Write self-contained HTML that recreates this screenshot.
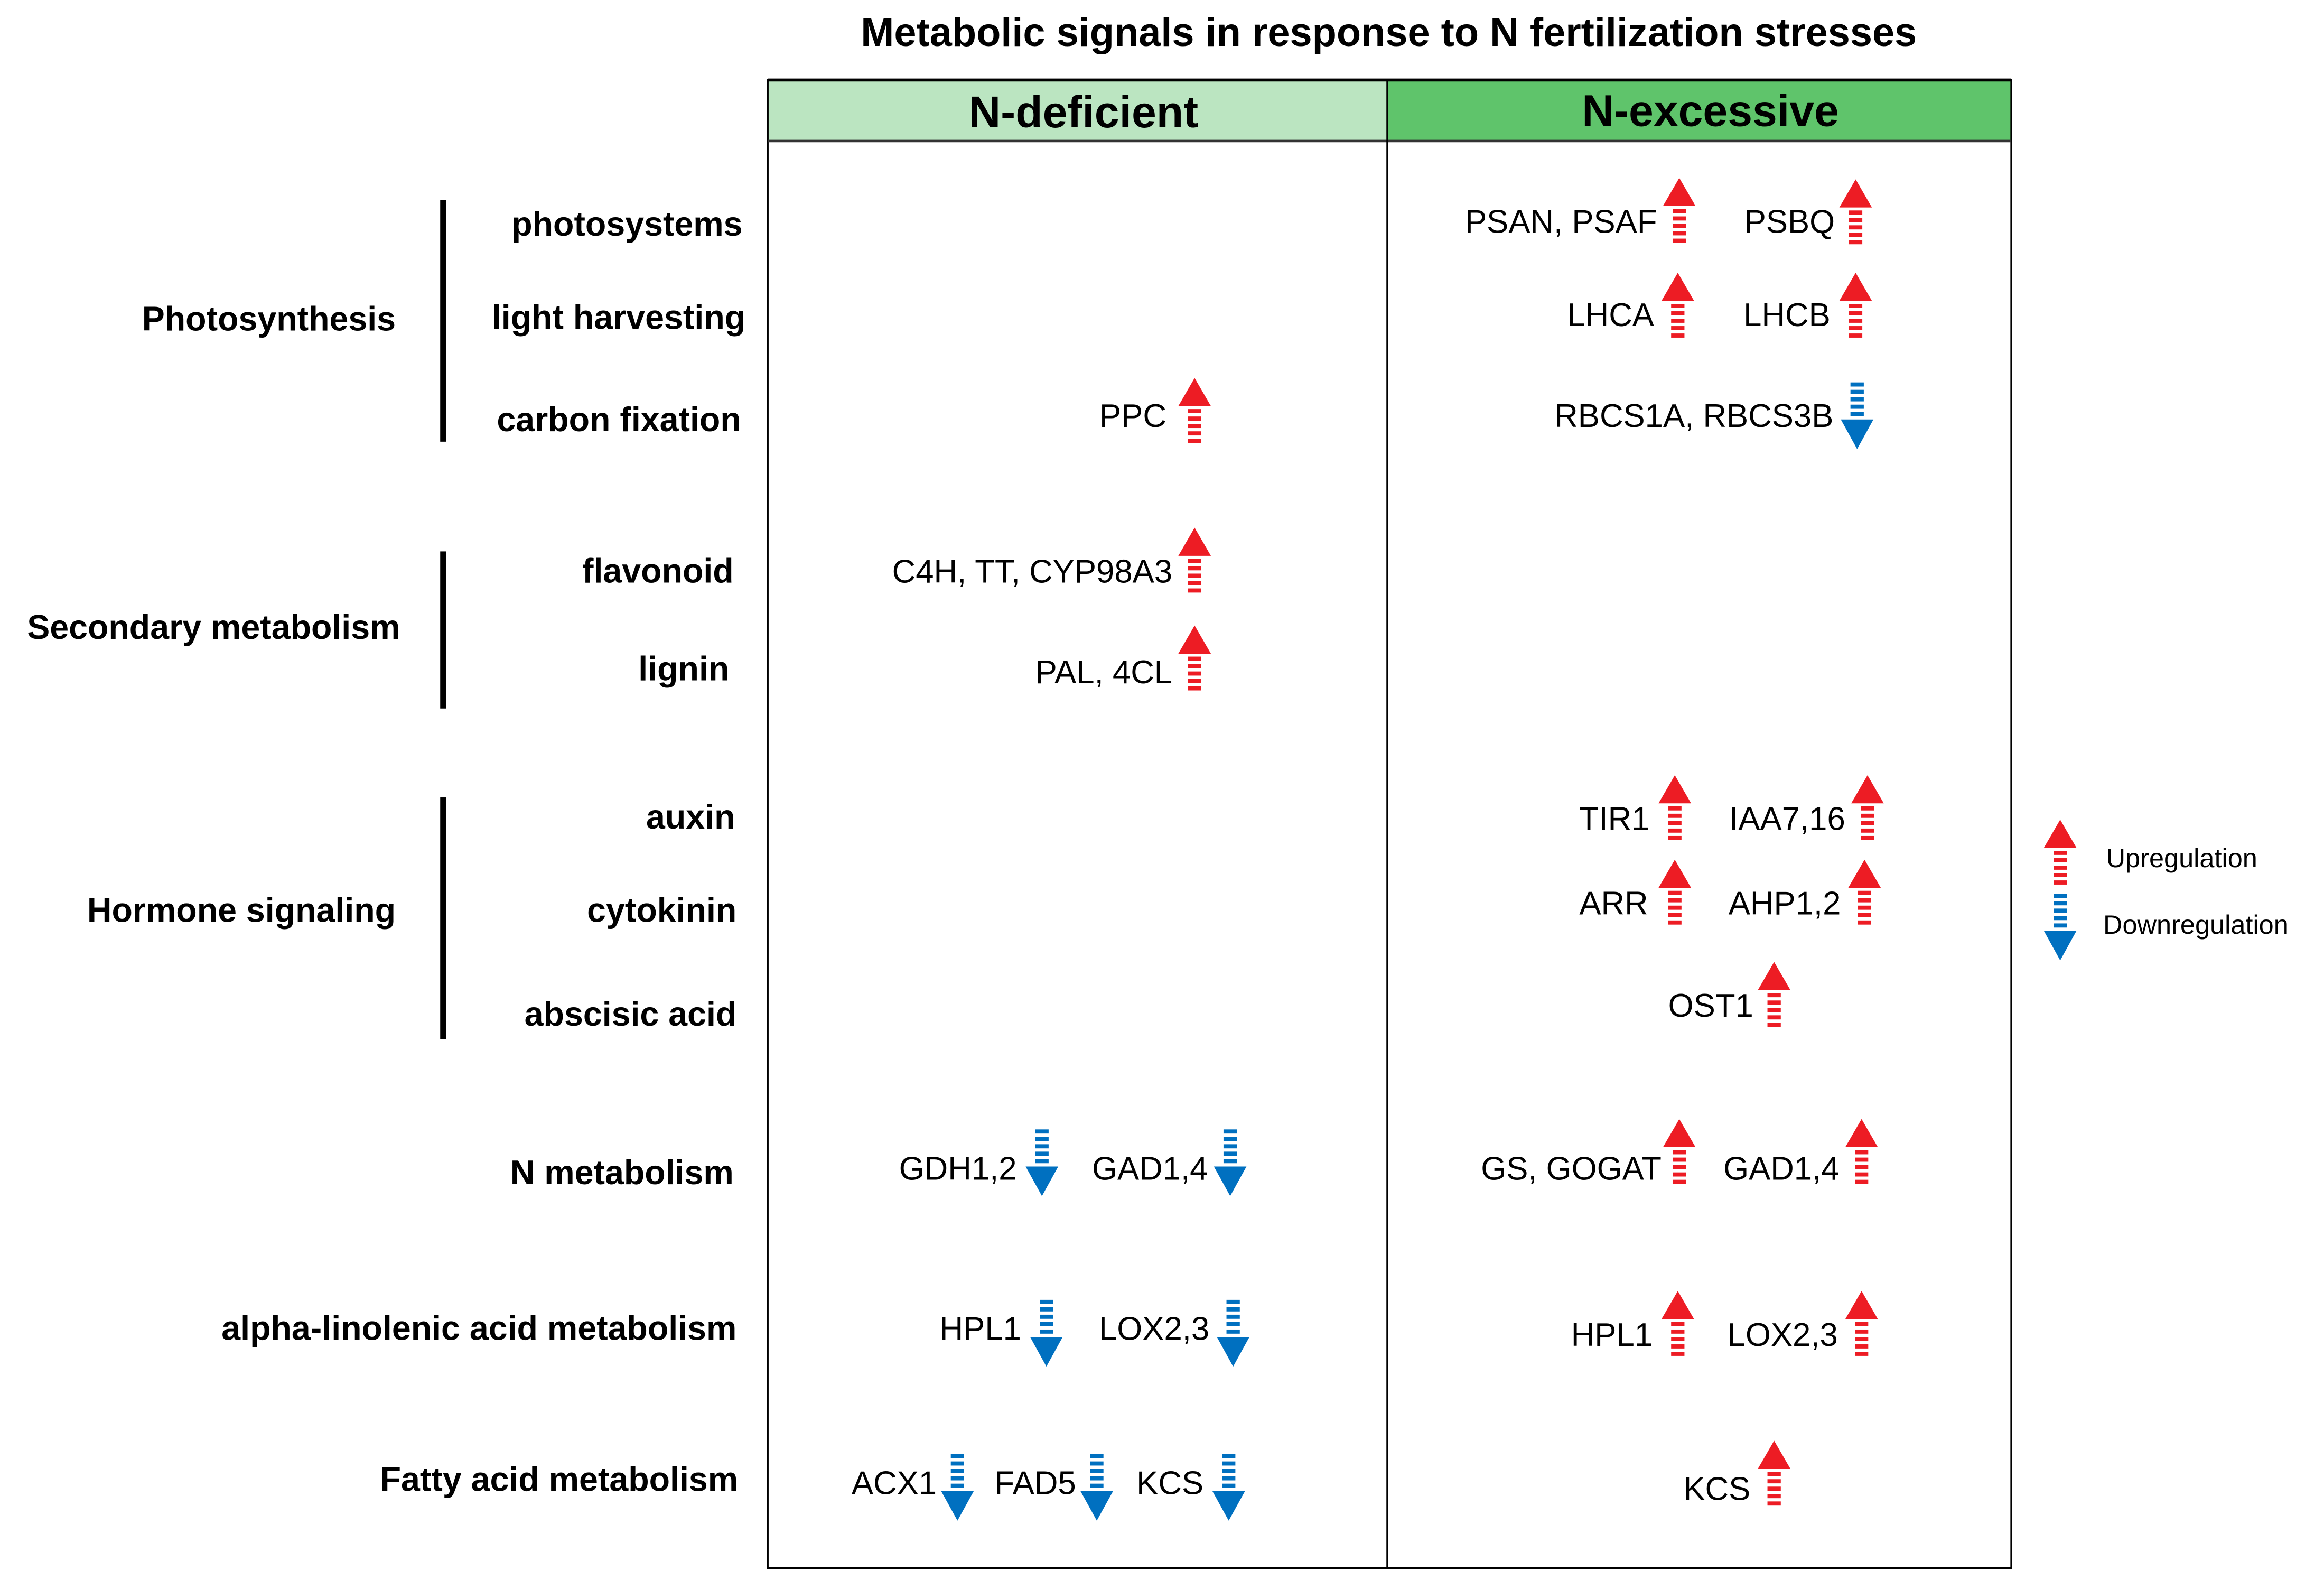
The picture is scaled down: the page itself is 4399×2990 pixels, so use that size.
<!DOCTYPE html>
<html><head><meta charset="utf-8"><style>
html,body{margin:0;padding:0;background:#fff;}
svg{display:block;}
.b{font-family:"Liberation Sans",sans-serif;font-weight:bold;font-size:23px;fill:#000;}
.g{font-family:"Liberation Sans",sans-serif;font-size:22px;fill:#000;}
.l{font-family:"Liberation Sans",sans-serif;font-size:18px;fill:#000;}
</style></head><body>
<svg width="4399" height="2990" viewBox="0 0 1568 1066" preserveAspectRatio="none" xmlns="http://www.w3.org/2000/svg">
<defs>
<g id="up"><polygon points="0,0 11,19 -11,19" fill="#ed1c24"/>
<g fill="#ed1c24"><rect x="-4.5" y="21" width="9" height="2.8"/><rect x="-4.5" y="26" width="9" height="2.8"/><rect x="-4.5" y="31" width="9" height="2.8"/><rect x="-4.5" y="36" width="9" height="2.8"/><rect x="-4.5" y="41" width="9" height="2.8"/></g></g>
<g id="dn"><g fill="#0070c0"><rect x="-4.5" y="0" width="9" height="2.8"/><rect x="-4.5" y="5" width="9" height="2.8"/><rect x="-4.5" y="10" width="9" height="2.8"/><rect x="-4.5" y="15" width="9" height="2.8"/><rect x="-4.5" y="20" width="9" height="2.8"/></g>
<polygon points="-11,25 11,25 0,45" fill="#0070c0"/></g>
</defs>
<text x="937" y="31" text-anchor="middle" class="b" style="font-size:27px">Metabolic signals in response to N fertilization stresses</text>
<rect x="518" y="54" width="418" height="41" fill="#bbe5c1"/>
<rect x="936" y="54" width="421" height="41" fill="#5fc46b"/>
<rect x="518" y="54" width="839" height="1004" fill="none" stroke="#000" stroke-width="1.2"/>
<line x1="518" y1="54" x2="1357" y2="54" stroke="#000" stroke-width="2"/>
<line x1="518" y1="95" x2="1357" y2="95" stroke="#333" stroke-width="2"/>
<line x1="936" y1="54" x2="936" y2="1058" stroke="#000" stroke-width="1.2"/>
<text x="731" y="86" text-anchor="middle" class="b" style="font-size:30px">N-deficient</text>
<text x="1154" y="85" text-anchor="middle" class="b" style="font-size:30px">N-excessive</text>

<rect x="297" y="135" width="4" height="163" fill="#000"/>
<rect x="297" y="372" width="4" height="106" fill="#000"/>
<rect x="297" y="538" width="4" height="163" fill="#000"/>

<g class="b" text-anchor="end">
<text x="267" y="223">Photosynthesis</text>
<text x="270" y="431">Secondary metabolism</text>
<text x="267" y="622">Hormone signaling</text>
<text x="501" y="159">photosystems</text>
<text x="503" y="222">light harvesting</text>
<text x="500" y="291">carbon fixation</text>
<text x="495" y="393">flavonoid</text>
<text x="492" y="459">lignin</text>
<text x="496" y="559">auxin</text>
<text x="497" y="622">cytokinin</text>
<text x="497" y="692">abscisic acid</text>
<text x="495" y="799">N metabolism</text>
<text x="497" y="904">alpha-linolenic acid metabolism</text>
<text x="498" y="1006">Fatty acid metabolism</text>
</g>

<g class="g" text-anchor="end">
<text x="1118" y="157">PSAN, PSAF</text>
<text x="1238" y="157">PSBQ</text>
<text x="1116" y="220">LHCA</text>
<text x="1235" y="220">LHCB</text>
<text x="1237" y="288">RBCS1A, RBCS3B</text>
<text x="1113" y="560">TIR1</text>
<text x="1245" y="560">IAA7,16</text>
<text x="1112" y="617">ARR</text>
<text x="1242" y="617">AHP1,2</text>
<text x="1183" y="686">OST1</text>
<text x="1121" y="796">GS, GOGAT</text>
<text x="1241" y="796">GAD1,4</text>
<text x="1115" y="908">HPL1</text>
<text x="1240" y="908">LOX2,3</text>
<text x="1181" y="1012">KCS</text>
<text x="787" y="288">PPC</text>
<text x="791" y="393">C4H, TT, CYP98A3</text>
<text x="791" y="461">PAL, 4CL</text>
<text x="686" y="796">GDH1,2</text>
<text x="815" y="796">GAD1,4</text>
<text x="689" y="904">HPL1</text>
<text x="816" y="904">LOX2,3</text>
<text x="632" y="1008">ACX1</text>
<text x="726" y="1008">FAD5</text>
<text x="812" y="1008">KCS</text>
</g>

<use href="#up" transform="translate(1133,120)"/>
<use href="#up" transform="translate(1252,121)"/>
<use href="#up" transform="translate(1132,184)"/>
<use href="#up" transform="translate(1252,184)"/>
<use href="#dn" transform="translate(1253,258)"/>
<use href="#up" transform="translate(1130,523)"/>
<use href="#up" transform="translate(1260,523)"/>
<use href="#up" transform="translate(1130,580)"/>
<use href="#up" transform="translate(1258,580)"/>
<use href="#up" transform="translate(1197,649)"/>
<use href="#up" transform="translate(1133,755)"/>
<use href="#up" transform="translate(1256,755)"/>
<use href="#up" transform="translate(1132,871)"/>
<use href="#up" transform="translate(1256,871)"/>
<use href="#up" transform="translate(1197,972)"/>
<use href="#up" transform="translate(806,255)"/>
<use href="#up" transform="translate(806,356)"/>
<use href="#up" transform="translate(806,422)"/>
<use href="#dn" transform="translate(703,762)"/>
<use href="#dn" transform="translate(830,762)"/>
<use href="#dn" transform="translate(706,877)"/>
<use href="#dn" transform="translate(832,877)"/>
<use href="#dn" transform="translate(646,981)"/>
<use href="#dn" transform="translate(740,981)"/>
<use href="#dn" transform="translate(829,981)"/>

<use href="#up" transform="translate(1390,553)"/>
<use href="#dn" transform="translate(1390,603)"/>
<text x="1421" y="585" class="l">Upregulation</text>
<text x="1419" y="630" class="l">Downregulation</text>
</svg>
</body></html>
